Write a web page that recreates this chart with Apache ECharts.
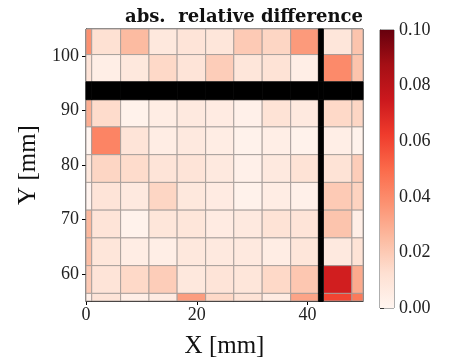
<!DOCTYPE html>
<html>
<head>
<meta charset="utf-8">
<script src="https://cdn.jsdelivr.net/npm/echarts@6/dist/echarts.min.js"></script>
<style>
  html, body { margin: 0; padding: 0; background: #fff; }
  #chart { width: 450px; height: 364px; }
</style>
</head>
<body>
<div id="chart"></div>
<script>
// Pad cell edges in mm (columns left→right, rows top→bottom).
// Column 9 and row 2 are the dead gaps between sensor tiles.
const xEdges = [0, 1.03, 6.25, 11.37, 16.45, 21.6, 26.68, 31.8, 36.95, 41.95, 42.85, 48.0, 50];
const yEdges = [105, 100.3, 95.3, 92.0, 87.0, 81.9, 76.8, 71.7, 66.6, 61.5, 56.4, 55];

// Absolute relative difference per pad (null = gap, drawn black).
const row0  = [0.038, 0.012, 0.025, 0.008, 0.010, 0.009, 0.020, 0.016, 0.035, null, 0.009, 0.022];
const row1  = [0.010, 0.004, 0.008, 0.015, 0.010, 0.019, 0.009, 0.011, 0.004, null, 0.040, 0.022];
const row2  = [null, null, null, null, null, null, null, null, null, null, null, null];
const row3  = [0.029, 0.014, 0.002, 0.005, 0.007, 0.006, 0.003, 0.011, 0.007, null, 0.015, 0.016];
const row4  = [0.000, 0.042, 0.010, 0.005, 0.007, 0.005, 0.002, 0.004, 0.002, null, 0.004, 0.002];
const row5  = [0.008, 0.016, 0.014, 0.010, 0.010, 0.007, 0.003, 0.007, 0.011, null, 0.011, 0.019];
const row6  = [0.001, 0.010, 0.007, 0.016, 0.008, 0.006, 0.002, 0.005, 0.003, null, 0.020, 0.017];
const row7  = [0.026, 0.010, 0.002, 0.009, 0.009, 0.006, 0.007, 0.011, 0.010, null, 0.022, 0.004];
const row8  = [0.024, 0.009, 0.005, 0.004, 0.008, 0.007, 0.007, 0.005, 0.009, null, 0.007, 0.011];
const row9  = [0.020, 0.010, 0.015, 0.019, 0.008, 0.010, 0.009, 0.015, 0.021, null, 0.073, 0.030];
const row10 = [0.003, 0.010, 0.004, 0.006, 0.034, 0.015, 0.011, 0.006, 0.032, null, 0.060, 0.045];
const rows = [row0, row1, row2, row3, row4, row5, row6, row7, row8, row9, row10];

const xTicks = [0, 20, 40];
const yTicks = [60, 70, 80, 90, 100];
const cbarTicks = [0, 0.02, 0.04, 0.06, 0.08, 0.10];

// matplotlib "Reds" colormap
const reds = ['#fff5f0', '#fee0d2', '#fcbba1', '#fc9272', '#fb6a4a', '#ef3b2c', '#cb181d', '#a50f15', '#67000d'];

const cells = [];
const gaps = [];
rows.forEach(function (vals, r) {
  vals.forEach(function (v, c) {
    const item = [xEdges[c], xEdges[c + 1], yEdges[r + 1], yEdges[r], v];
    if (v === null) gaps.push(item); else cells.push(item);
  });
});

function rectFor(api) {
  const a = api.coord([api.value(0), api.value(3)]);
  const b = api.coord([api.value(1), api.value(2)]);
  return { x: a[0], y: a[1], width: b[0] - a[0], height: b[1] - a[1] };
}

const serif = 'Liberation Serif, Times New Roman, serif';
const chart = echarts.init(document.getElementById('chart'));

chart.setOption({
  animation: false,
  title: {
    text: 'abs.  relative difference',
    right: 87, top: 8, padding: 0,
    textStyle: { fontFamily: 'DejaVu Serif, serif', fontWeight: 'bold', fontSize: 18, color: '#111' }
  },
  grid: [
    { left: 86, top: 29, width: 277, height: 278, show: true, borderColor: '#000', borderWidth: 1, backgroundColor: 'transparent' },
    { left: 380, top: 30, width: 14, height: 278, show: true, borderColor: '#333', borderWidth: 0.8, backgroundColor: 'transparent' }
  ],
  xAxis: [
    {
      gridIndex: 0, type: 'value', min: 0, max: 50,
      name: 'X [mm]', nameLocation: 'middle', nameGap: 33,
      nameTextStyle: { fontFamily: serif, fontSize: 25, color: '#111' },
      axisLine: { show: true, lineStyle: { color: '#000', width: 1 } },
      axisTick: { show: true, length: 4, customValues: xTicks, lineStyle: { color: '#000' } },
      axisLabel: { customValues: xTicks, margin: 5, fontFamily: serif, fontSize: 18, color: '#222' },
      splitLine: { show: false }
    },
    { gridIndex: 1, type: 'value', min: 0, max: 1, show: false }
  ],
  yAxis: [
    {
      gridIndex: 0, type: 'value', min: 55, max: 105,
      name: 'Y [mm]', nameLocation: 'middle', nameGap: 40, nameRotate: 90,
      nameTextStyle: { fontFamily: serif, fontSize: 25, color: '#111' },
      axisLine: { show: true, lineStyle: { color: '#000', width: 1 } },
      axisTick: { show: true, length: 4, customValues: yTicks, lineStyle: { color: '#000' } },
      axisLabel: { customValues: yTicks, margin: 7, fontFamily: serif, fontSize: 18, color: '#222' },
      splitLine: { show: false }
    },
    {
      gridIndex: 1, type: 'value', min: 0, max: 0.1, position: 'right',
      axisLine: { show: true, lineStyle: { color: '#333', width: 0.8 } },
      axisTick: { show: true, length: 4, customValues: cbarTicks, lineStyle: { color: '#333' } },
      axisLabel: {
        customValues: cbarTicks, margin: 5, fontFamily: serif, fontSize: 18, color: '#222',
        formatter: function (v) { return v.toFixed(2); }
      },
      splitLine: { show: false }
    }
  ],
  visualMap: {
    type: 'continuous', show: false, min: 0, max: 0.1, dimension: 4, seriesIndex: 0,
    inRange: { color: reds }
  },
  series: [
    {
      type: 'custom', xAxisIndex: 0, yAxisIndex: 0, z: 2,
      encode: { x: [0, 1], y: [2, 3] },
      data: cells,
      renderItem: function (params, api) {
        return {
          type: 'rect', shape: rectFor(api),
          style: { fill: api.visual('color'), stroke: '#a59c98', lineWidth: 0.9 }
        };
      }
    },
    {
      type: 'custom', xAxisIndex: 0, yAxisIndex: 0, z: 3,
      encode: { x: [0, 1], y: [2, 3] },
      data: gaps.map(function (g) { return g.slice(0, 4); }),
      renderItem: function (params, api) {
        return { type: 'rect', shape: rectFor(api), style: { fill: '#000', stroke: '#000', lineWidth: 0.8 } };
      }
    },
    {
      // colour bar
      type: 'custom', xAxisIndex: 1, yAxisIndex: 1, z: 2,
      data: [[0, 1, 0, 0.1]],
      encode: { x: [0, 1], y: [2, 3] },
      renderItem: function (params, api) {
        return {
          type: 'rect', shape: rectFor(api),
          style: {
            fill: {
              type: 'linear', x: 0, y: 1, x2: 0, y2: 0,
              colorStops: reds.map(function (c, i) { return { offset: i / (reds.length - 1), color: c }; })
            }
          }
        };
      }
    }
  ]
});
</script>
</body>
</html>
